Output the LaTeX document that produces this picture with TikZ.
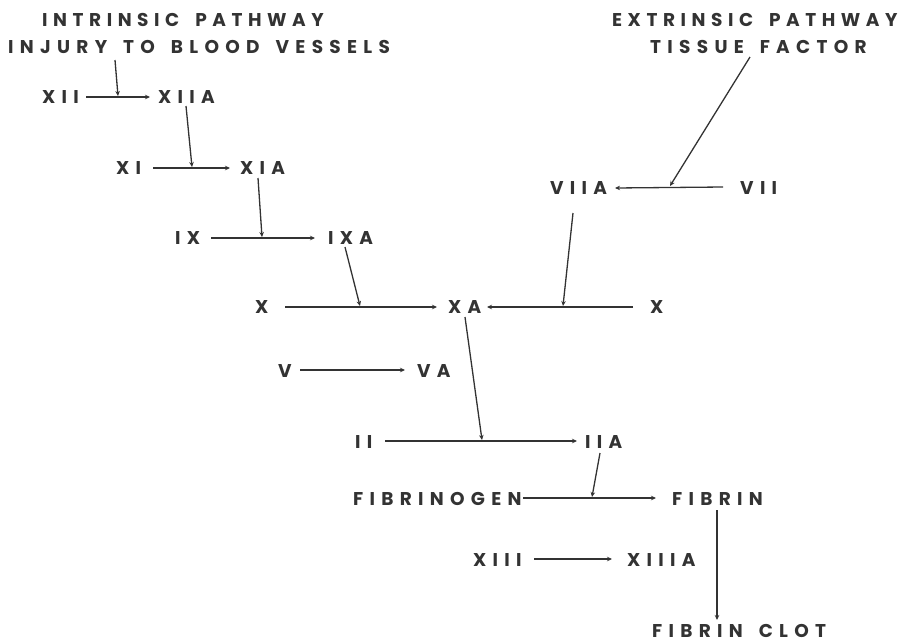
\documentclass[tikz,border=0pt]{standalone}
\usepackage{fontspec}
\setmainfont{Poppins}[LetterSpace=34]
\newfontfamily\headfont{Poppins}[LetterSpace=30]
\usetikzlibrary{arrows.meta,calc}
\definecolor{ink}{HTML}{333333}
\newcommand\wsp{\hspace*{16pt}}
\tikzset{
  lab/.style={inner sep=0pt, anchor=west, text=ink, font=\fontsize{18.5}{27}\selectfont\bfseries},
  head/.style={lab, font=\fontsize{18.5}{27}\selectfont\headfont\bfseries},
  arr/.style={draw=ink, line width=1.3pt, -{Stealth[length=5pt,width=4.5pt]}},
  cat/.style={draw=ink, line width=1.3pt, -{Stealth[length=5pt,width=4.5pt]}}
}
\begin{document}
\begin{tikzpicture}[x=1pt,y=-1pt]
\useasboundingbox (0,0) rectangle (906,638);
% titles
\node[head] (intr) at (42,20) {INTRINSIC\wsp PATHWAY};
\node[lab] (intr2) at (8,47) {INJURY\wsp TO\wsp BLOOD\wsp VESSELS};
\node[head] (extr) at (612,20) {EXTRINSIC\wsp PATHWAY};
\node[lab] (extr2) at (650,47) {TISSUE\wsp FACTOR};
% factors
\node[lab] (xii) at (42,97) {XII};
\node[lab] (xiia) at (158,97) {XIIA};
\node[lab] (xi) at (116,168) {XI};
\node[lab] (xia) at (240,168) {XIA};
\node[lab] (ix) at (175,238) {IX};
\node[lab] (ixa) at (328,238) {IXA};
\node[lab] (x1) at (255,307) {X};
\node[lab] (xa) at (448,307) {XA};
\node[lab] (x2) at (650,307) {X};
\node[lab] (vii) at (740,188) {VII};
\node[lab] (viia) at (550,188) {VIIA};
\node[lab] (v) at (278,371) {V};
\node[lab] (va) at (417,371) {VA};
\node[lab] (ii) at (355,442) {II};
\node[lab] (iia) at (585,442) {IIA};
\node[lab] (fgen) at (353,499) {FIBRINOGEN};
\node[lab] (fib) at (672,499) {FIBRIN};
\node[lab] (xiii) at (473,560) {XIII};
\node[lab] (xiiia) at (627,560) {XIIIA};
\node[lab] (clot) at (652,631) {FIBRIN\wsp CLOT};
% horizontal conversions
\draw[arr] (86,97) -- (150,97);
\draw[arr] (153,168) -- (230,168);
\draw[arr] (211,238) -- (315,238);
\draw[arr] (285,307) -- (437,307);
\draw[arr] (633,307) -- (487,307);
\draw[arr] (723,187) -- (615,188);
\draw[arr] (300,370) -- (405,370);
\draw[arr] (385,441) -- (577,441);
\draw[arr] (523,498) -- (656,498);
\draw[arr] (534,559) -- (612,559);
\draw[arr] (717,510) -- (717,620);
% catalysis
\draw[cat] (115,60) -- (118,96);
\draw[cat] (186,106) -- (192,167);
\draw[cat] (258,178) -- (262,237);
\draw[cat] (345,247) -- (360,306);
\draw[cat] (750,57) -- (670,186);
\draw[cat] (573,213) -- (563,306);
\draw[cat] (465,317) -- (482,440);
\draw[cat] (600,453) -- (592,497);
\end{tikzpicture}
\end{document}
